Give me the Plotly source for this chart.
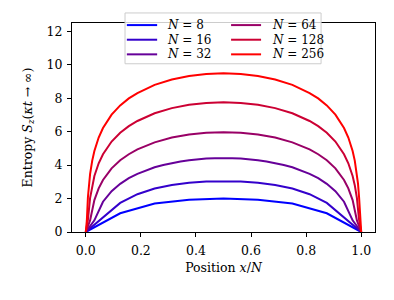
import plotly.graph_objects as go

# ---- data (x = position x/N, y = entropy) ----
x8 = [0, 0.125, 0.25, 0.375, 0.5, 0.625, 0.75, 0.875, 1]
y8 = [0, 1.12, 1.70, 1.93, 2.01, 1.93, 1.70, 1.12, 0]

x16 = [0, 0.0625, 0.125, 0.1875, 0.25, 0.3125, 0.375, 0.4375, 0.5,
       0.5625, 0.625, 0.6875, 0.75, 0.8125, 0.875, 0.9375, 1]
y16 = [0, 0.85, 1.74, 2.26, 2.60, 2.81, 2.94, 3.02, 3.04,
       3.02, 2.94, 2.81, 2.60, 2.26, 1.74, 0.85, 0]

k32 = list(range(0, 33))
x32 = [k / 32 for k in k32]
y32 = [0, 0.70, 1.81, 2.44, 2.88, 3.22, 3.48, 3.69, 3.87, 4.01, 4.13, 4.22, 4.29, 4.35, 4.39, 4.41, 4.42,
       4.41, 4.39, 4.35, 4.29, 4.22, 4.13, 4.01, 3.87, 3.69, 3.48, 3.22, 2.88, 2.44, 1.81, 0.70, 0]

k64 = [0, 1, 2, 3, 4, 6, 8, 10, 12, 16, 20, 24, 28, 32, 36, 40, 44, 48, 52, 54, 56, 58, 60, 61, 62, 63, 64]
x64 = [k / 64 for k in k64]
y64 = [0, 0.69, 1.91, 2.61, 3.11, 3.81, 4.29, 4.65, 4.94, 5.36, 5.65, 5.83, 5.94, 5.97,
       5.94, 5.83, 5.65, 5.36, 4.94, 4.65, 4.29, 3.81, 3.11, 2.61, 1.91, 0.69, 0]

k128 = [0, 1, 2, 3, 4, 6, 8, 12, 16, 20, 24, 32, 40, 48, 56, 64,
        72, 80, 88, 96, 104, 108, 112, 116, 120, 122, 124, 125, 126, 127, 128]
x128 = [k / 128 for k in k128]
y128 = [0, 0.72, 2.03, 2.80, 3.35, 4.11, 4.65, 5.41, 5.94, 6.33, 6.64, 7.10, 7.41, 7.61, 7.72, 7.76,
        7.72, 7.61, 7.41, 7.10, 6.64, 6.33, 5.94, 5.41, 4.65, 4.11, 3.35, 2.80, 2.03, 0.72, 0]

k256 = [0, 1, 2, 3, 4, 6, 8, 12, 16, 24, 32, 40, 48, 64, 80, 96, 112, 128,
        144, 160, 176, 192, 208, 216, 224, 232, 240, 244, 248, 250, 252, 253, 254, 255, 256]
x256 = [k / 256 for k in k256]
y256 = [0, 0.69, 2.08, 2.89, 3.46, 4.27, 4.85, 5.65, 6.22, 7.02, 7.57, 7.99, 8.31, 8.80, 9.12, 9.33, 9.45, 9.49,
        9.45, 9.33, 9.12, 8.80, 8.31, 7.99, 7.57, 7.02, 6.22, 5.65, 4.85, 4.27, 3.46, 2.89, 2.08, 0.69, 0]

sizes = ["8", "16", "32", "64", "128", "256"]
colors = ["#0000ff", "#3300cc", "#660099", "#990066", "#cc0033", "#ff0000"]
xs = [x8, x16, x32, x64, x128, x256]
ys = [y8, y16, y32, y64, y128, y256]

xticks = [0.0, 0.2, 0.4, 0.6, 0.8, 1.0]
yticks = [0, 2, 4, 6, 8, 10, 12]

FONT = "DejaVu Serif"
FS = 12.5
LEG_FS = 12

fig = go.Figure()
for n, c, x, y in zip(sizes, colors, xs, ys):
    fig.add_trace(go.Scatter(
        x=x, y=y, mode="lines", line=dict(color=c, width=2),
        name=f"<i>N</i> = {n}", showlegend=False,
    ))

# ---- hand-placed legend (two columns inside one frame), paper coordinates ----
shapes = [dict(type="rect", xref="paper", yref="paper",
               x0=0.175, x1=0.822, y0=0.805, y1=1.048,
               line=dict(color="#cccccc", width=1),
               fillcolor="rgba(255,255,255,0.8)", layer="above")]
annotations = []
row_y = [0.990, 0.920, 0.850]
col_line = [(0.181, 0.281), (0.525, 0.624)]
col_text = [0.311, 0.657]
for i, (n, c) in enumerate(zip(sizes, colors)):
    col, row = divmod(i, 3)
    x0, x1 = col_line[col]
    shapes.append(dict(type="line", xref="paper", yref="paper",
                       x0=x0, x1=x1, y0=row_y[row], y1=row_y[row],
                       line=dict(color=c, width=2), layer="above"))
    annotations.append(dict(xref="paper", yref="paper", x=col_text[col], y=row_y[row],
                            xanchor="left", yanchor="middle", showarrow=False,
                            borderpad=0,
                            text=f"<i>N</i> = {n}",
                            font=dict(family=FONT, size=LEG_FS, color="black")))

# the page body adds an 8px offset, so the figure is sized to fit inside the window
fig.update_layout(
    width=378, height=284,
    margin=dict(l=64, r=11, t=15, b=60, autoexpand=False),
    paper_bgcolor="white", plot_bgcolor="white",
    font=dict(family=FONT, size=FS, color="black"),
    showlegend=False,
    shapes=shapes,
    annotations=annotations,
)

fig.update_xaxes(
    range=[-0.05, 1.05], tickvals=xticks, tickformat=".1f",
    showgrid=False, zeroline=False, showline=True, mirror=True,
    linecolor="black", linewidth=1, ticks="outside", ticklen=4, tickwidth=1,
    tickcolor="black", ticklabelstandoff=3,
    title=dict(text="Position <i>x</i>/<i>N</i>", standoff=6,
               font=dict(family=FONT, size=FS)),
)
fig.update_yaxes(
    range=[0, 12.5], tickvals=yticks,
    showgrid=False, zeroline=False, showline=True, mirror=True,
    linecolor="black", linewidth=1, ticks="outside", ticklen=4, tickwidth=1,
    tickcolor="black", ticklabelstandoff=2,
    title=dict(text="Entropy <i>S<sub>z</sub></i>(<i>κt</i> → ∞)", standoff=11,
               font=dict(family=FONT, size=FS)),
)

fig.write_html("out.html")
